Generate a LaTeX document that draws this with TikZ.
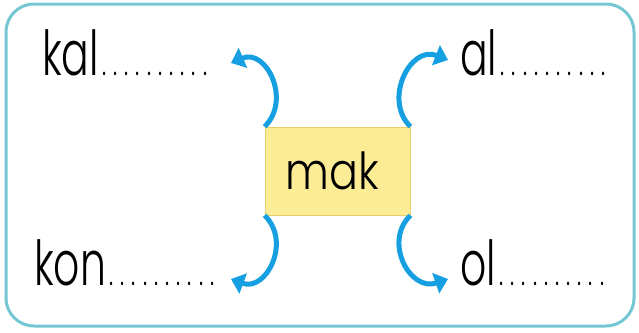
\documentclass[tikz,border=0pt]{standalone}
\usepackage{fontspec}
\IfFontExistsTF{Poppins Light}{\def\wordfont{Poppins Light}}{%
  \IfFontExistsTF{Poppins-Light}{\def\wordfont{Poppins-Light}}{\def\wordfont{Poppins}}}
\setmainfont{\wordfont}[FakeStretch=0.66]
\newfontfamily\makfont{\wordfont}[FakeStretch=0.84]
\usetikzlibrary{arrows.meta}

\definecolor{framecol}{RGB}{115,198,210}
\definecolor{boxfill}{RGB}{252,236,150}
\definecolor{boxline}{RGB}{232,205,110}
\definecolor{arrowcol}{RGB}{22,160,225}

\newcommand{\dotrow}{{\fontsize{34}{34}\selectfont\foreach \i in {1,...,10}{\makebox[11.2pt][c]{.}}}}

\begin{document}
\begin{tikzpicture}[x=1pt,y=-1pt,
  word/.style={anchor=base west,inner sep=0pt,font=\fontsize{62}{70}\selectfont},
  makbox/.style={draw=boxline,fill=boxfill,line width=0.8pt,minimum width=145pt,
    minimum height=88pt,inner sep=0pt,font=\makfont\fontsize{51}{56}\selectfont},
  curvarrow/.style={draw=arrowcol,line width=5pt,
    -{Triangle[length=13pt,width=21pt]}}]
\useasboundingbox (0,0) rectangle (639,332);
\draw[framecol,line width=3pt,rounded corners=28pt] (6,4) rectangle (634,326);

% words
\node[word] (kal) at (42,75) {kal\dotrow};
\node[word] (al) at (460,75) {al\dotrow};
\node[word] (kon) at (34,285) {kon\dotrow};
\node[word] (ol) at (460,285) {ol\dotrow};

% middle box
\node[makbox] (mak) at (337.5,171) {mak\kern10pt};

% arrow ends
\coordinate (kaltip) at (231,63);
\coordinate (altip) at (448,60);
\coordinate (kontip) at (231,279);
\coordinate (oltip) at (448,279);

\draw[curvarrow] (mak.north west) .. controls (292,100) and (266,48) .. (kaltip);
\draw[curvarrow] (mak.north east) .. controls (383,100) and (410,45) .. (altip);
\draw[curvarrow] (mak.south west) .. controls (292,242) and (266,292) .. (kontip);
\draw[curvarrow] (mak.south east) .. controls (383,242) and (410,292) .. (oltip);
\end{tikzpicture}
\end{document}
